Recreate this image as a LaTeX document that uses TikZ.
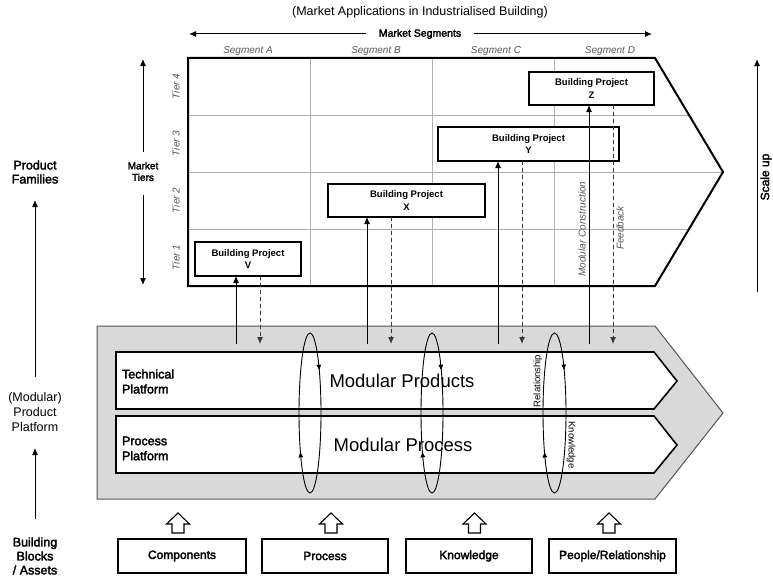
\documentclass[tikz,border=0pt]{standalone}
\usepackage{fontspec}
\setmainfont{Liberation Sans}
\newfontfamily\medfont[FakeBold=2.5]{Liberation Sans}
\usetikzlibrary{arrows.meta,calc,decorations.markings}
\definecolor{platgray}{HTML}{D9D9D9}
\definecolor{platedge}{HTML}{555555}
\definecolor{labgray}{HTML}{555555}
\definecolor{dashgray}{HTML}{3A3A3A}
\definecolor{gridgray}{HTML}{B0B0B0}
\newcommand\hollowup[1]{\draw[hollowarrow] (#1) ++(-6,0) -- ++(0,-9) -- ++(-5.5,0) -- ++(11.5,-11) -- ++(11.5,11) -- ++(-5.5,0) -- ++(0,9) -- cycle;}
\begin{document}
\begin{tikzpicture}[x=1pt,y=-1pt,
  every node/.style={inner sep=0pt, outer sep=0pt},
  sidelbl/.style={font=\medfont\fontsize{12.5}{14}\selectfont, align=center},
  ital/.style={font=\itshape\fontsize{10}{12}\selectfont, text=labgray},
  proj/.style={draw, line width=2pt, fill=white, font=\bfseries\fontsize{9.5}{12.5}\selectfont, align=center},
  block/.style={draw, line width=1.3pt, fill=white, minimum height=34pt, font=\medfont\fontsize{12}{14}\selectfont},
  tip/.style={-{Latex[length=7pt,width=6pt]}, line width=1pt},
  dashtip/.style={-{Latex[length=7pt,width=6pt]}, line width=1pt, draw=dashgray, fill=dashgray, dash pattern=on 4pt off 3pt},
  hollowarrow/.style={draw, fill=white, line width=1.1pt, line join=miter},
  loop/.style={line width=0.9pt, postaction={decorate}, decoration={markings,
     mark=at position 0.147 with {\arrow{<[length=6pt,width=5pt]}},
     mark=at position 0.635 with {\arrow{<[length=6pt,width=5pt]}}}},
  >={Latex}
]
\useasboundingbox (0,0) rectangle (773,578);

% ---------- top headings ----------
\node[font=\fontsize{12.5}{15}\selectfont] (title) at (420,12) {(Market Applications in Industrialised Building)};
\node[font=\medfont\fontsize{10.5}{12}\selectfont] (ms) at (420,34) {Market Segments};
\coordinate (msl) at (189,34);
\coordinate (msr) at (652,34);
\draw[tip] ($(ms.west)+(-13,0)$) -- (msl);
\draw[tip] ($(ms.east)+(13,0)$) -- (msr);

\node[ital] (sa) at (248,51) {Segment A};
\node[ital] (sb) at (376,51) {Segment B};
\node[ital] (sc) at (496,51) {Segment C};
\node[ital] (sd) at (610,51) {Segment D};

% ---------- market grid ----------
\begin{scope}
  \clip (188,58) -- (655,58) -- (723,172) -- (655,286) -- (188,286) -- cycle;
  \draw[gridgray, line width=0.7pt] (310,58) -- (310,286) (432,58) -- (432,286) (554,58) -- (554,286)
     (188,115) -- (723,115) (188,172) -- (723,172) (188,229) -- (723,229);
\end{scope}
\draw[line width=2pt, line join=miter] (188,58) -- (655,58) -- (723,172) -- (655,286) -- (188,286) -- cycle;

\node[ital, rotate=90] (t4) at (176,86.5) {Tier 4};
\node[ital, rotate=90] (t3) at (176,143.5) {Tier 3};
\node[ital, rotate=90] (t2) at (176,200.5) {Tier 2};
\node[ital, rotate=90] (t1) at (176,257.5) {Tier 1};

\node[font=\medfont\fontsize{10}{11.5}\selectfont, align=center] (mt) at (143,171.5) {Market\\Tiers};
\coordinate (mtt) at (143,59);
\coordinate (mtb) at (143,285);
\draw[tip] ($(mt.north)+(0,-10)$) -- (mtt);
\draw[tip] ($(mt.south)+(0,14)$) -- (mtb);

% ---------- building projects ----------
\node[proj, minimum width=106pt, minimum height=34pt] (V) at (248,259) {Building Project\\V};
\node[proj, minimum width=157pt, minimum height=33pt] (X) at (406.5,200.5) {Building Project\\X};
\node[proj, minimum width=181pt, minimum height=34pt] (Y) at (528.5,144) {Building Project\\Y};
\node[proj, minimum width=125pt, minimum height=33pt] (Z) at (591.5,88.5) {Building Project\\Z};

\node[ital, rotate=90] (mc) at (582,229) {Modular Construction};
\node[ital, rotate=90] (fb) at (620,228) {Feedback};

% ---------- scale up ----------
\coordinate (sub) at (757,292);
\coordinate (sut) at (757,59);
\draw[tip] (sub) -- (sut);
\node[font=\medfont\fontsize{12}{14}\selectfont, rotate=90] (su) at (766,177) {Scale up};

% ---------- platform ----------
\draw[fill=platgray, draw=platedge, line width=1pt, line join=miter] (97,326) -- (655,326) -- (723,413) -- (655,499) -- (97,499) -- cycle;
\draw[fill=white, line width=1.6pt, line join=miter] (116,352) -- (654,352) -- (677,381) -- (654,409) -- (116,409) -- cycle;
\draw[fill=white, line width=1.6pt, line join=miter] (116,416) -- (654,416) -- (677,445) -- (654,473) -- (116,473) -- cycle;

\node[font=\medfont\fontsize{12.5}{15}\selectfont, align=left, anchor=west] (tp) at (122,381.5) {Technical\\Platform};
\node[font=\medfont\fontsize{12.5}{15}\selectfont, align=left, anchor=west] (pp2) at (122,448.5) {Process\\Platform};
\node[font=\fontsize{18.5}{22}\selectfont] (mprod) at (402,381) {Modular Products};
\node[font=\fontsize{18.5}{22}\selectfont] (mproc) at (403,445) {Modular Process};

% ---------- connectors platform <-> projects ----------
\coordinate (vs) at (236,344);  \coordinate (vd) at (260,344);
\coordinate (xs) at (367,344);  \coordinate (xd) at (391,344);
\coordinate (ys) at (498,344);  \coordinate (yd) at (522,344);
\coordinate (zs) at (589,344);  \coordinate (zd) at (613,344);
\draw[tip] (vs) -- (vs |- V.south);
\draw[dashtip] (vd |- V.south) -- (vd);
\draw[tip] (xs) -- (xs |- X.south);
\draw[dashtip] (xd |- X.south) -- (xd);
\draw[tip] (ys) -- (ys |- Y.south);
\draw[dashtip] (yd |- Y.south) -- (yd);
\draw[tip] (zs) -- (zs |- Z.south);
\draw[dashtip] (zd |- Z.south) -- (zd);

% ---------- loops ----------
\draw[loop] (310,413) ellipse [x radius=11pt, y radius=80pt];
\draw[loop] (432,413) ellipse [x radius=11pt, y radius=80pt];
\draw[loop] (554.5,413) ellipse [x radius=11.5pt, y radius=80pt];
\node[font=\fontsize{9.5}{11}\selectfont, rotate=90] (rel) at (538,381) {Relationship};
\node[font=\fontsize{9.5}{11}\selectfont, rotate=-90] (kn) at (571,445) {Knowledge};

% ---------- building blocks ----------
\node[block, minimum width=128pt] (comp) at (182,556) {Components};
\node[block, minimum width=126pt] (proc) at (325,556) {Process};
\node[block, minimum width=126pt] (know) at (469,556) {Knowledge};
\node[block, minimum width=127pt] (peop) at (612.5,556) {People/Relationship};
\coordinate (h1) at (178,533);
\coordinate (h2) at (331,533);
\coordinate (h3) at (474.5,533);
\coordinate (h4) at (609,533);
\hollowup{h1}\hollowup{h2}\hollowup{h3}\hollowup{h4}

% ---------- left column ----------
\node[sidelbl] (pf) at (35,172) {Product\\Families};
\node[font=\fontsize{12.5}{15}\selectfont, align=center] (pp) at (35,412) {(Modular)\\Product\\Platform};
\node[sidelbl] (bb) at (35,556) {Building\\Blocks\\/ Assets};
\coordinate (a1s) at (35,377);
\coordinate (a1e) at (35,200);
\coordinate (a2s) at (35,519);
\coordinate (a2e) at (35,448);
\draw[tip] (a1s) -- (a1e);
\draw[tip] (a2s) -- (a2e);
\end{tikzpicture}
\end{document}
